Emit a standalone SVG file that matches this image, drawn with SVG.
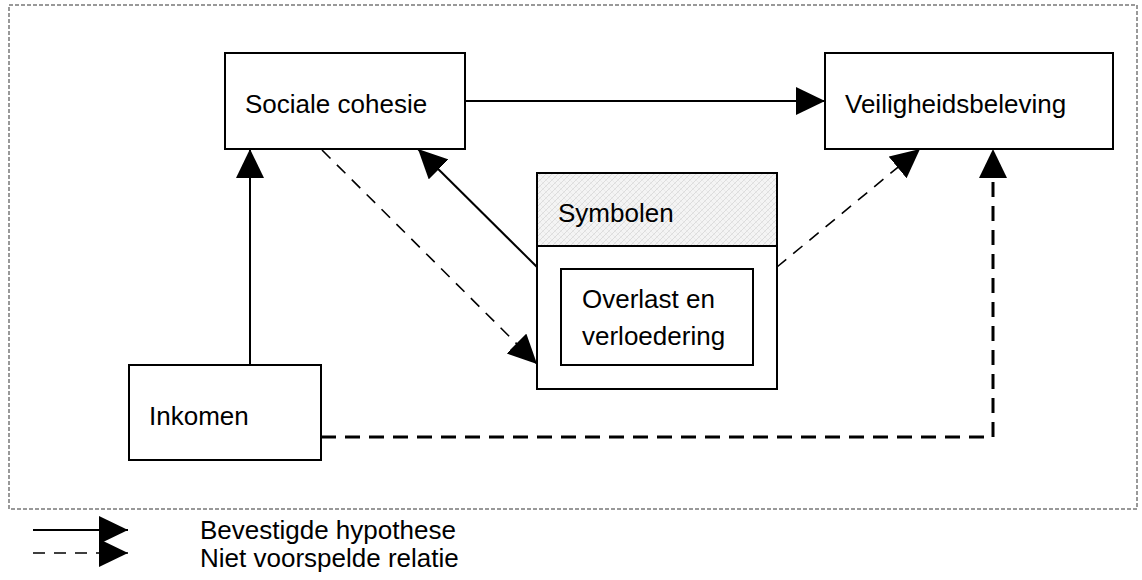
<svg xmlns="http://www.w3.org/2000/svg" width="1142" height="580" viewBox="0 0 1142 580">
<style>
  .box { fill: #fff; stroke: #000; stroke-width: 2; }
  .lbl { font-family: "Liberation Sans", Arial, sans-serif; font-size: 26px; fill: #000; }
  .leg { font-family: "Liberation Sans", Arial, sans-serif; font-size: 26px; fill: #000; }
  .solid { fill: none; stroke: #000; stroke-width: 2; }
  .dash { fill: none; stroke: #000; stroke-width: 1.6; stroke-dasharray: 12 9; }
  .dashb { fill: none; stroke: #000; stroke-width: 3; stroke-dasharray: 15 9; }
  .frame { fill: none; stroke: #999; stroke-width: 2; stroke-dasharray: 4 2; }
</style>
<defs>
  <marker id="ah" markerUnits="userSpaceOnUse" markerWidth="30" markerHeight="28" refX="29" refY="14" orient="auto">
    <path d="M0,0 L29,14 L0,28 z" fill="#000"/>
  </marker>
  <pattern id="hatch" patternUnits="userSpaceOnUse" width="6" height="6">
    <rect width="6" height="6" fill="#f4f4f4"/>
    <path d="M0,6 L6,0 M-1,1 L1,-1 M5,7 L7,5" stroke="#d6d6d6" stroke-width="0.8"/>
    <path d="M0,0 L6,6" stroke="#e2e2e2" stroke-width="0.6"/>
  </pattern>
</defs>

<rect class="frame" x="9" y="5" width="1128" height="504"/>

<g id="node-sociale">
  <rect class="box" x="225" y="53" width="240" height="96"/>
  <text class="lbl" x="245" y="113">Sociale cohesie</text>
</g>
<g id="node-veiligheid">
  <rect class="box" x="825" y="53" width="288" height="96"/>
  <text class="lbl" x="845" y="113">Veiligheidsbeleving</text>
</g>
<g id="node-symbolen">
  <rect x="537" y="173" width="240" height="73" fill="url(#hatch)" stroke="#000" stroke-width="2"/>
  <rect class="box" x="537" y="246" width="240" height="143"/>
  <text class="lbl" x="558" y="222">Symbolen</text>
</g>
<g id="node-overlast">
  <rect class="box" x="561" y="269" width="192" height="96"/>
  <text class="lbl" x="582" y="308">Overlast en</text>
  <text class="lbl" x="582" y="345">verloedering</text>
</g>
<g id="node-inkomen">
  <rect class="box" x="129" y="365" width="192" height="95"/>
  <text class="lbl" x="149" y="425">Inkomen</text>
</g>

<g id="connectors">
  <line class="solid" x1="465" y1="101" x2="825" y2="101" marker-end="url(#ah)"/>
  <line class="solid" x1="250" y1="365" x2="250" y2="149" marker-end="url(#ah)"/>
  <line class="solid" x1="537" y1="267" x2="418" y2="149" marker-end="url(#ah)"/>
  <line class="dash" x1="322" y1="150" x2="537" y2="364" marker-end="url(#ah)"/>
  <line class="dash" x1="777" y1="267" x2="920" y2="149" marker-end="url(#ah)"/>
  <polyline class="dashb" points="321,437 993,437 993,149" marker-end="url(#ah)"/>
</g>

<g id="legend">
  <line class="solid" x1="33" y1="530" x2="128" y2="530" marker-end="url(#ah)"/>
  <line class="dash" x1="33" y1="553" x2="128" y2="553" stroke-width="2" marker-end="url(#ah)"/>
  <text class="leg" x="200" y="539">Bevestigde hypothese</text>
  <text class="leg" x="200" y="567">Niet voorspelde relatie</text>
</g>
</svg>
